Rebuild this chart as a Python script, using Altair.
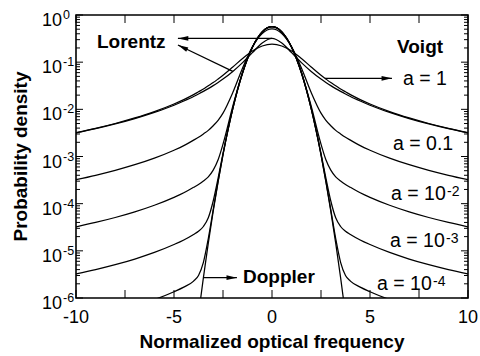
import altair as alt
import pandas as pd

FONT = "Liberation Sans"

# Normalized optical frequency (Doppler-width units); the profiles are even,
# so each series is listed for x >= 0 and mirrored onto x < 0.
x_half = [0, 0.5, 1, 1.5, 2, 2.5, 2.75, 3, 3.25, 3.5, 3.75, 4, 4.5, 5, 6, 7, 8, 9, 10]

lorentz = [0.3183, 0.2546, 0.1592, 0.0979, 0.0637, 0.0439, 0.0372, 0.0318, 0.0275,
           0.0240, 0.0211, 0.0187, 0.0150, 0.0122, 0.00860, 0.00637, 0.00490,
           0.00388, 0.00315]
voigt_a1 = [0.2412, 0.2204, 0.1719, 0.1195, 0.0791, 0.0529, 0.0440, 0.0369, 0.0316,
            0.0269, 0.0235, 0.0205, 0.0161, 0.0130, 0.00896, 0.00656, 0.00501,
            0.00395, 0.00320]
voigt_a01 = [0.5062, 0.4049, 0.2104, 0.0755, 0.0227, 0.00832, 0.00585, 0.00450,
             0.00358, 0.00301, 0.00256, 0.00222, 0.00170, 0.00136, 0.000924,
             0.000670, 0.000509, 0.000400, 0.000323]
voigt_a1e2 = [0.5578, 0.4357, 0.2081, 0.0613, 0.01164, 0.001824, 0.000853, 0.000514,
              0.000371, 0.000303, 0.000256, 0.000222, 0.000170, 0.000136, 9.24e-5,
              6.70e-5, 5.09e-5, 4.00e-5, 3.23e-5]
voigt_a1e3 = [0.5636, 0.4390, 0.2076, 0.05965, 0.01047, 0.001163, 0.000349, 0.000114,
              5.02e-5, 3.28e-5, 2.60e-5, 2.22e-5, 1.70e-5, 1.36e-5, 9.24e-6, 6.70e-6,
              5.09e-6, 4.00e-6, 3.23e-6]
voigt_a1e4 = [0.5641, 0.4394, 0.2076, 0.05949, 0.01035, 0.001096, 0.000298, 7.40e-5,
              1.82e-5, 5.71e-6, 3.00e-6, 2.28e-6, 1.70e-6, 1.36e-6, 9.24e-7, 6.70e-7,
              5.09e-7, 4.00e-7, 3.23e-7]

x_doppler = [0, 0.5, 1, 1.5, 2, 2.5, 2.75, 3, 3.25, 3.5, 3.75, 4]
doppler = [0.5642, 0.4394, 0.2076, 0.05947, 0.01033, 0.001089, 0.000293, 6.96e-5,
           1.46e-5, 2.70e-6, 4.41e-7, 6.3e-8]

series = {
    "Lorentz": (x_half, lorentz),
    "a = 1": (x_half, voigt_a1),
    "a = 0.1": (x_half, voigt_a01),
    "a = 1e-2": (x_half, voigt_a1e2),
    "a = 1e-3": (x_half, voigt_a1e3),
    "a = 1e-4": (x_half, voigt_a1e4),
    "Doppler": (x_doppler, doppler),
}

rows = []
for name, (xs, ys) in series.items():
    xs_full = [-v for v in xs[:0:-1]] + list(xs)
    ys_full = list(ys[:0:-1]) + list(ys)
    rows += [{"series": name, "x": a, "y": b} for a, b in zip(xs_full, ys_full)]
curves_df = pd.DataFrame(rows)

# axis ticks and labels
y_major = [1e-6, 1e-5, 1e-4, 1e-3, 1e-2, 1e-1, 1.0]
y_exponents = ["-6", "-5", "-4", "-3", "-2", "-1", "0"]
y_minor = [m * 10.0 ** e for e in range(-6, 0) for m in range(2, 10)]
x_ticks = [-10, -7.5, -5, -2.5, 0, 2.5, 5, 7.5, 10]
x_label_values = [-10, -5, 0, 5, 10]
x_label_text = ["-10", "-5", "0", "5", "10"]

W, H = 392, 283

xs = alt.Scale(domain=[-10, 10], nice=False, zero=False)
ys = alt.Scale(type="log", domain=[1e-6, 1], nice=False)


def X(field):
    return alt.X(field, type="quantitative", scale=xs, axis=None)


def Y(field):
    return alt.Y(field, type="quantitative", scale=ys, axis=None)


curves = alt.Chart(curves_df).mark_line(
    color="black", strokeWidth=1.25, interpolate="monotone", clip=True
).encode(x=X("x"), y=Y("y"), detail="series:N")

ymaj = pd.DataFrame({"v": y_major, "e": y_exponents})
ymin = pd.DataFrame({"v": y_minor})
xt = pd.DataFrame({"v": x_ticks})
xl = pd.DataFrame({"v": x_label_values, "t": x_label_text})

tick_style = dict(color="black", strokeWidth=1)
ticks = [
    alt.Chart(ymaj).mark_rule(**tick_style).encode(y=Y("v"), x=alt.value(0), x2=alt.value(7)),
    alt.Chart(ymaj).mark_rule(**tick_style).encode(y=Y("v"), x=alt.value(W - 7), x2=alt.value(W)),
    alt.Chart(ymin).mark_rule(**tick_style).encode(y=Y("v"), x=alt.value(0), x2=alt.value(4)),
    alt.Chart(ymin).mark_rule(**tick_style).encode(y=Y("v"), x=alt.value(W - 4), x2=alt.value(W)),
    alt.Chart(xt).mark_rule(**tick_style).encode(x=X("v"), y=alt.value(H - 8), y2=alt.value(H)),
    alt.Chart(xt).mark_rule(**tick_style).encode(x=X("v"), y=alt.value(0), y2=alt.value(8)),
]

y_labels = alt.Chart(ymaj).mark_text(
    align="right", baseline="alphabetic", font=FONT, fontSize=18, dy=11, text="10"
).encode(y=Y("v"), x=alt.value(-14))
y_label_exp = alt.Chart(ymaj).mark_text(
    align="left", baseline="alphabetic", font=FONT, fontSize=12.5, dy=4
).encode(y=Y("v"), x=alt.value(-13), text="e:N")
x_labels = alt.Chart(xl).mark_text(
    align="center", baseline="alphabetic", font=FONT, fontSize=18
).encode(x=X("v"), y=alt.value(308), text="t:N")

x_title = alt.Chart(pd.DataFrame({"t": ["Normalized optical frequency"]})).mark_text(
    align="center", baseline="alphabetic", font=FONT, fontSize=19, fontWeight="bold"
).encode(x=alt.value(W / 2), y=alt.value(333), text="t:N")
y_title = alt.Chart(pd.DataFrame({"t": ["Probability density"]})).mark_text(
    align="center", baseline="alphabetic", font=FONT, fontSize=19, fontWeight="bold", angle=270
).encode(x=alt.value(-49), y=alt.value(H / 2), text="t:N")

# arrows from the curves to their labels (tail on the curve, head at the label)
arrows_df = pd.DataFrame({
    "x": [0.0, -2.0, 2.70, -3.5],
    "y": [0.3183, 0.0637, 0.0455, 2.7e-6],
    "x2": [-4.80, -4.80, 6.12, -1.79],
    "y2": [0.3183, 0.231, 0.0455, 2.7e-6],
    "ang": [270, 296, 90, 90],
})
arrow_lines = alt.Chart(arrows_df).mark_rule(color="black", strokeWidth=1.2).encode(
    x=X("x"), y=Y("y"), x2="x2:Q", y2="y2:Q"
)
arrow_heads = alt.Chart(arrows_df).mark_point(
    shape="M0,0L0.6,2.6L-0.6,2.6Z", filled=True, color="black", opacity=1, size=64, strokeWidth=0
).encode(x=X("x2"), y=Y("y2"), angle=alt.Angle("ang:Q", scale=None))

bold_labels = alt.Chart(pd.DataFrame({
    "t": ["Lorentz", "Voigt", "Doppler"],
    "px": [21, 321, 167],
    "py": [33, 38, 268],
})).mark_text(
    align="left", baseline="alphabetic", font=FONT, fontSize=19, fontWeight="bold"
).encode(x=alt.X("px:Q", scale=None), y=alt.Y("py:Q", scale=None), text="t:N")

a_labels = alt.Chart(pd.DataFrame({
    "t": ["a = 1", "a = 0.1", "a = 10", "a = 10", "a = 10"],
    "px": [327, 317, 315, 314, 301],
    "py": [70, 135, 185, 232, 275],
})).mark_text(
    align="left", baseline="alphabetic", font=FONT, fontSize=19.5
).encode(x=alt.X("px:Q", scale=None), y=alt.Y("py:Q", scale=None), text="t:N")

a_exps = alt.Chart(pd.DataFrame({
    "t": ["-2", "-3", "-4"],
    "px": [371, 370, 357],
    "py": [181, 228, 271],
})).mark_text(
    align="left", baseline="alphabetic", font=FONT, fontSize=14
).encode(x=alt.X("px:Q", scale=None), y=alt.Y("py:Q", scale=None), text="t:N")

chart = alt.layer(
    curves, *ticks, y_labels, y_label_exp, x_labels, x_title, y_title,
    arrow_lines, arrow_heads, bold_labels, a_labels, a_exps,
).properties(
    width=W,
    height=H,
    padding={"left": 76, "top": 15, "right": 12, "bottom": 58},
    autosize=alt.AutoSizeParams(type="none"),
).configure_view(stroke="black", strokeWidth=1.6)

chart.save("out.html", embed_options={"renderer": "svg", "actions": False})
